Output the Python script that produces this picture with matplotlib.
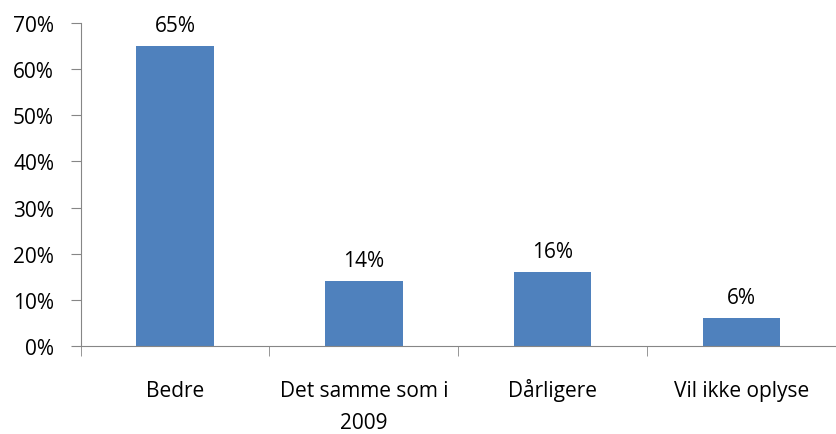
import numpy as np
import matplotlib.pyplot as plt
from matplotlib.ticker import FixedLocator

categories = ["Bedre", "Det samme som i\n2009", "Dårligere", "Vil ikke oplyse"]
values = [65, 14, 16, 6]
yticks = [0, 10, 20, 30, 40, 50, 60, 70]

plt.rcParams['font.family'] = ['Open Sans', 'DejaVu Sans']
fs = 15

fig = plt.figure(figsize=(8.36, 4.35), dpi=100)
ax = fig.add_axes([0.0963, 0.2023, 0.9037, 0.7425])

x = np.arange(len(categories))
ax.bar(x, values, width=0.41, color="#4F81BD")

# value labels above bars
for xi, v in zip(x, values):
    ax.text(xi, v + 3.3, f"{v}%", ha="center", va="baseline", fontsize=fs)

ax.set_xlim(-0.5, len(categories) - 0.5)
ax.set_ylim(0, 70)
ax.set_yticks(yticks)
ax.set_yticklabels([f"{t}%" for t in yticks], fontsize=fs)

# category labels, one line at a time so baselines line up
ax.set_xticks([])
for xi, lab in zip(x, categories):
    for i, line in enumerate(lab.split("\n")):
        ax.annotate(line, xy=(xi, 0), xycoords=("data", "axes fraction"),
                    xytext=(0, -36 - i * 23), textcoords="offset points",
                    ha="center", va="baseline", fontsize=fs)

ax.xaxis.set_minor_locator(FixedLocator(np.arange(-0.5, len(categories), 1.0)))
ax.tick_params(axis="x", which="minor", length=7, color="#868686")
ax.tick_params(axis="y", length=7, color="#868686", pad=12)

for s in ["top", "right"]:
    ax.spines[s].set_visible(False)
for s in ["left", "bottom"]:
    ax.spines[s].set_color("#868686")

fig.savefig("out.png", dpi=100)
